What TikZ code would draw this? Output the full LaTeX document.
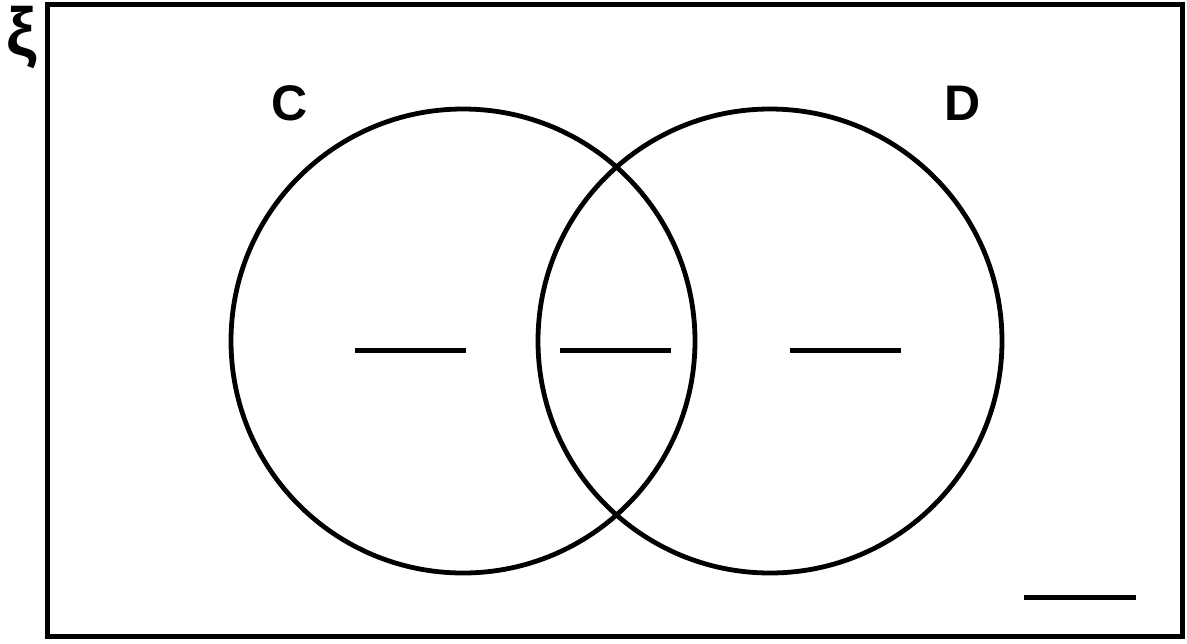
\documentclass[tikz,border=0pt]{standalone}
\usepackage{fontspec}
\setmainfont{Liberation Sans}
\usetikzlibrary{calc}

\begin{document}
\begin{tikzpicture}[x=0.5pt,y=-0.5pt]
    \useasboundingbox (0,0) rectangle (1187,643);

    % Universal set
    \draw[line width=2.6pt] (47.5,4.5) rectangle (1182.5,636.5);
    \node[font=\bfseries\fontsize{34}{40}\selectfont] (xi) at (22,38) {ξ};

    % Sets C and D
    \draw[line width=2.4pt] (463,341) circle (232);
    \draw[line width=2.4pt] (770,341) circle (232);
    \node[font=\bfseries\fontsize{25}{30}\selectfont] (labC) at (290,103) {C};
    \node[font=\bfseries\fontsize{25}{30}\selectfont] (labD) at (963,103) {D};

    % Blanks to fill in
    \draw[line width=2.5pt] (355,350) -- (466,350);
    \draw[line width=2.5pt] (560,350) -- (671,350);
    \draw[line width=2.5pt] (790,350) -- (901,350);
    \draw[line width=2.5pt] (1024,597) -- (1136,597);

\end{tikzpicture}
\end{document}
